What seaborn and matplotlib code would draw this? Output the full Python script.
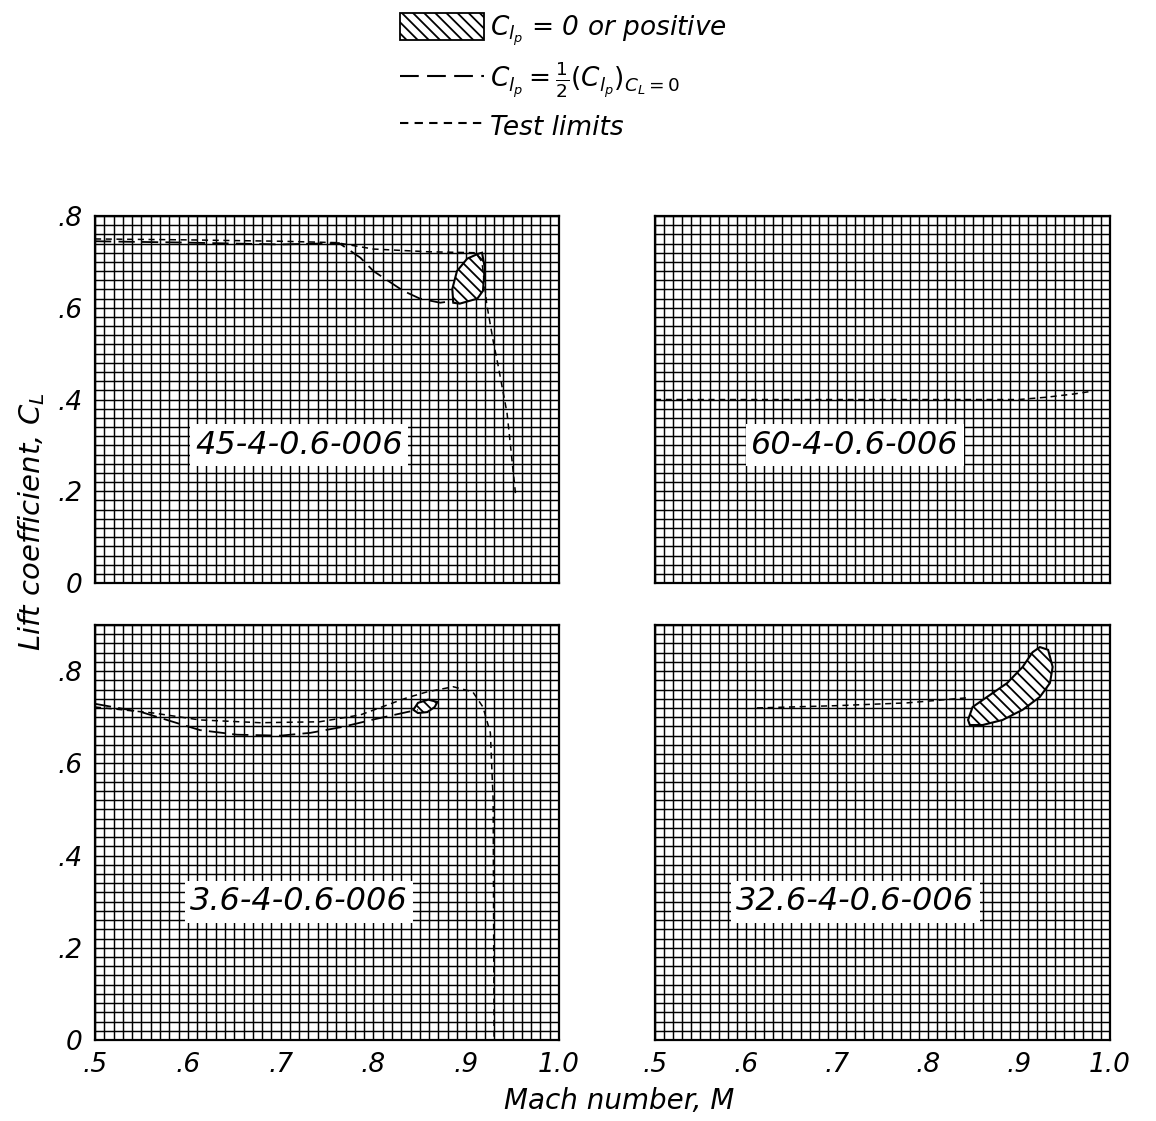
import numpy as np
import pandas as pd
import matplotlib
matplotlib.use("Agg")
import matplotlib.pyplot as plt
import seaborn as sns
from matplotlib.patches import Patch
from matplotlib.lines import Line2D

# ---- data (Mach number M, lift coefficient CL) ----
# 45-4-0.6-006
tl_test_m = [0.5, 0.6, 0.7, 0.76, 0.80, 0.86, 0.91, 0.917, 0.922, 0.929, 0.934, 0.944, 0.949, 0.953]
tl_test_cl = [0.75, 0.748, 0.745, 0.742, 0.728, 0.722, 0.72, 0.70, 0.609, 0.528, 0.478, 0.37, 0.274, 0.196]
tl_half_m = [0.5, 0.6, 0.7, 0.763, 0.786, 0.80, 0.832, 0.85, 0.872, 0.886]
tl_half_cl = [0.745, 0.742, 0.738, 0.741, 0.709, 0.68, 0.637, 0.62, 0.611, 0.615]
tl_hatch_m = [0.885, 0.890, 0.901, 0.912, 0.917, 0.920, 0.918, 0.912, 0.893, 0.886]
tl_hatch_cl = [0.641, 0.680, 0.707, 0.717, 0.720, 0.687, 0.637, 0.620, 0.609, 0.611]

# 60-4-0.6-006
tr_test_m = [0.5, 0.6, 0.7, 0.8, 0.9, 0.93, 0.96, 0.98]
tr_test_cl = [0.40, 0.40, 0.40, 0.40, 0.40, 0.405, 0.412, 0.418]

# 3.6-4-0.6-006
bl_test_m = [0.5, 0.563, 0.613, 0.678, 0.742, 0.786, 0.821, 0.836, 0.858, 0.886, 0.907, 0.918, 0.926, 0.929, 0.930]
bl_test_cl = [0.722, 0.709, 0.694, 0.688, 0.690, 0.705, 0.731, 0.742, 0.755, 0.766, 0.755, 0.722, 0.666, 0.52, 0.0]
bl_half_m = [0.5, 0.55, 0.613, 0.653, 0.70, 0.732, 0.767, 0.80, 0.836, 0.848]
bl_half_cl = [0.729, 0.711, 0.672, 0.662, 0.660, 0.666, 0.679, 0.695, 0.711, 0.716]
bl_hatch_m = [0.843, 0.848, 0.859, 0.869, 0.866, 0.858, 0.848]
bl_hatch_cl = [0.716, 0.731, 0.738, 0.733, 0.722, 0.711, 0.709]

# 32.6-4-0.6-006
br_test_m = [0.612, 0.70, 0.777, 0.843]
br_test_cl = [0.72, 0.725, 0.731, 0.742]
br_hatch_m = [0.844, 0.849, 0.865, 0.887, 0.904, 0.915, 0.923, 0.932, 0.937, 0.934, 0.923, 0.904, 0.882, 0.860, 0.846]
br_hatch_cl = [0.694, 0.722, 0.744, 0.774, 0.809, 0.841, 0.852, 0.846, 0.809, 0.774, 0.744, 0.716, 0.694, 0.683, 0.683]

panel_names = ["45-4-0.6-006", "60-4-0.6-006", "3.6-4-0.6-006", "32.6-4-0.6-006"]
x_ticks = [0.5, 0.6, 0.7, 0.8, 0.9, 1.0]
x_tick_labels = [".5", ".6", ".7", ".8", ".9", "1.0"]
y_ticks = [0, 0.2, 0.4, 0.6, 0.8]
y_tick_labels = ["0", ".2", ".4", ".6", ".8"]

# ---- style ----
sns.set_theme(style="white")
plt.rcParams["font.family"] = ["DejaVu Sans"]
plt.rcParams["mathtext.fontset"] = "dejavusans"
plt.rcParams["mathtext.default"] = "it"
plt.rcParams["hatch.linewidth"] = 1.3
plt.rcParams["hatch.color"] = "black"
plt.rcParams["text.color"] = "black"
plt.rcParams["xtick.color"] = "black"
plt.rcParams["ytick.color"] = "black"

fig = plt.figure(figsize=(11.56, 11.21), dpi=100)
positions = [
    [0.0822, 0.4799, 0.4014, 0.3274],
    [0.5666, 0.4799, 0.3936, 0.3274],
    [0.0822, 0.0723, 0.4014, 0.3702],
    [0.5666, 0.0723, 0.3936, 0.3702],
]
axes = [fig.add_axes(p) for p in positions]
ylims = [0.8, 0.8, 0.9, 0.9]

test_style = dict(color="black", lw=1.1, dashes=(4, 3))
half_style = dict(color="black", lw=1.3, dashes=(9, 4))


def draw_line(ax, m, cl, style):
    d = pd.DataFrame({"M": m, "CL": cl})
    sns.lineplot(data=d, x="M", y="CL", ax=ax, sort=False, estimator=None, **style)


def draw_hatch(ax, m, cl):
    ax.fill(m, cl, facecolor="white", edgecolor="black", hatch="\\\\\\", lw=1.5, zorder=4)


draw_line(axes[0], tl_test_m, tl_test_cl, test_style)
draw_line(axes[0], tl_half_m, tl_half_cl, half_style)
draw_hatch(axes[0], tl_hatch_m, tl_hatch_cl)

draw_line(axes[1], tr_test_m, tr_test_cl, test_style)

draw_line(axes[2], bl_test_m, bl_test_cl, test_style)
draw_line(axes[2], bl_half_m, bl_half_cl, half_style)
draw_hatch(axes[2], bl_hatch_m, bl_hatch_cl)

draw_line(axes[3], br_test_m, br_test_cl, test_style)
draw_hatch(axes[3], br_hatch_m, br_hatch_cl)

for i, ax in enumerate(axes):
    for ln in ax.get_lines():
        ln.set_zorder(5)
    ax.set_xlim(0.5, 1.0)
    ax.set_ylim(0, ylims[i])
    ax.set_xticks(np.arange(0.5, 1.0001, 0.01), minor=True)
    ax.set_yticks(np.arange(0, ylims[i] + 0.0001, 0.02), minor=True)
    ax.set_xticks(x_ticks)
    ax.set_yticks(y_ticks)
    ax.grid(which="both", color="black", lw=1.05)
    ax.set_axisbelow(True)
    ax.tick_params(which="both", length=0, labelsize=19, pad=9)
    for s in ax.spines.values():
        s.set_color("black")
        s.set_linewidth(1.6)
    if i in (2, 3):
        ax.set_xticklabels(x_tick_labels, style="oblique")
    else:
        ax.set_xticklabels([])
    if i in (0, 2):
        ax.set_yticklabels(y_tick_labels, style="oblique")
    else:
        ax.set_yticklabels([])
    ax.set_xlabel("")
    ax.set_ylabel("")
    ax.text(0.72, 0.30, panel_names[i], fontsize=23, style="oblique", ha="center", va="center",
            zorder=6, bbox=dict(facecolor="white", edgecolor="none", pad=4))

# axis titles
fig.text(0.027, 0.535, r"Lift coefficient, $C_L$", rotation=90, fontsize=21, style="oblique",
         ha="center", va="center")
fig.text(0.536, 0.018, "Mach number, M", fontsize=20, style="oblique", ha="center", va="center")

# key at top
handles = [
    Patch(facecolor="white", edgecolor="black", hatch="\\\\\\", lw=1.3),
    Line2D([0], [0], color="black", lw=1.5, dashes=(9, 4)),
    Line2D([0], [0], color="black", lw=1.5, dashes=(4, 3)),
]
labels = [
    r"$C_{l_p}$ = 0 or positive",
    r"$C_{l_p} = \frac{1}{2}(C_{l_p})_{C_L=0}$",
    "Test limits",
]
leg = fig.legend(handles, labels, loc="upper left", bbox_to_anchor=(0.33, 1.005), frameon=False,
                 prop=dict(size=19, style="oblique"), handlelength=3.2, handleheight=1.2,
                 handletextpad=0.2, labelspacing=0.45, borderpad=0.2)

fig.savefig("out.png", dpi=100)
